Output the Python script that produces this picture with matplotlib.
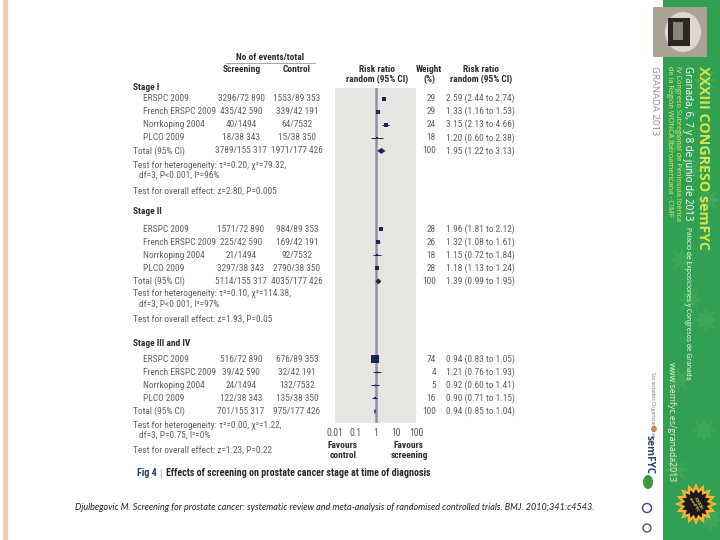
import matplotlib.pyplot as plt
import numpy as np
from matplotlib.patches import Rectangle, Polygon, Ellipse
from matplotlib import font_manager

# pick a narrow face if one is installed, otherwise shrink Lato
fm = font_manager.fontManager
names = {f.name for f in fm.ttflist}
body_family, body_stretch, scale = 'Lato', 'normal', 0.74
for nm in ['Liberation Sans Narrow', 'Roboto Condensed', 'Noto Sans Condensed', 'Open Sans Condensed']:
    if nm in names:
        body_family, body_stretch, scale = nm, 'normal', 0.91
        break
else:
    for nm in ['Noto Sans', 'Open Sans']:
        if any(f.name == nm and f.stretch in ('condensed', 'semi-condensed', 'extra-condensed')
               for f in fm.ttflist):
            body_family, body_stretch, scale = nm, 'condensed', 0.86
            break

plt.rcParams['font.family'] = [body_family, 'Lato', 'DejaVu Sans']
plt.rcParams['font.stretch'] = body_stretch

# =====
# Data
# =====
stages = ['Stage I', 'Stage II', 'Stage III and IV']
studies = ['ERSPC 2009', 'French ERSPC 2009', 'Norrkoping 2004', 'PLCO 2009']

scr_events = [[3296, 435, 40, 18], [1571, 225, 21, 3297], [516, 39, 24, 122]]
ctl_events = [[1553, 339, 64, 15], [984, 169, 92, 2790], [676, 32, 132, 135]]
scr_total = [72890, 42590, 1494, 38343]
ctl_total = [89353, 42191, 7532, 38350]

weights = [[29, 29, 24, 18], [28, 26, 18, 28], [74, 4, 5, 16]]
rr = [[2.59, 1.33, 3.15, 1.20], [1.96, 1.32, 1.15, 1.18], [0.94, 1.21, 0.92, 0.90]]
rr_lo = [[2.44, 1.16, 2.13, 0.60], [1.81, 1.08, 0.72, 1.13], [0.83, 0.76, 0.60, 0.71]]
rr_hi = [[2.74, 1.53, 4.66, 2.38], [2.12, 1.61, 1.84, 1.24], [1.05, 1.93, 1.41, 1.15]]

pooled_rr = [1.95, 1.39, 0.94]
pooled_lo = [1.22, 0.99, 0.85]
pooled_hi = [3.13, 1.95, 1.04]

het_tau2 = ['0.20', '0.10', '0.00']
het_chi2 = ['79.32', '114.38', '1.22']
het_p = ['P<0.001', 'P<0.001', 'P=0.75']
het_i2 = ['96%', '97%', '0%']
overall_z = ['2.80', '1.93', '1.23']
overall_p = ['P=0.005', 'P=0.05', 'P=0.22']

axis_ticks = [0.01, 0.1, 1, 10, 100]
axis_labels = ['0.01', '0.1', '1', '10', '100']

# pixel layout of each stage block
stage_header_y = [87, 212, 344]
stage_first_y = [98.5, 229, 359]
stage_het_y = [165, 294, 425]
stage_overall_y = [191, 319, 450]
row_step = 13.1


def fmt(n):
    if n >= 10000:
        return '{:,}'.format(n).replace(',', ' ')
    return str(n)


fig = plt.figure(figsize=(7.2, 5.4), dpi=100)
bg = fig.add_axes([0, 0, 1, 1])
bg.set_xlim(0, 720)
bg.set_ylim(540, 0)
bg.axis('off')

bg.add_patch(Rectangle((3, 0), 5, 540, color='#f8c7b3', lw=0))

L, R, T, B = 335, 416, 88, 423
ax = fig.add_axes([L / 720, 1 - B / 540, (R - L) / 720, (B - T) / 540])
ax.set_xscale('log')
ax.set_xlim(0.01, 100)
ax.set_ylim(B, T)
ax.set_facecolor('#e7e5e2')
for s in ax.spines.values():
    s.set_visible(False)
ax.set_yticks([])
ax.set_xticks(axis_ticks)
ax.set_xticklabels(axis_labels, fontsize=7.6 * scale, color='#555555')
ax.minorticks_off()
ax.tick_params(axis='x', length=0, pad=3.5)
ax.axvline(1, color='#8d90ad', lw=1.8, zorder=1)

dark = '#2b2b2b'
grey = '#606060'
navy = '#1d2455'
fs = 7.4 * scale
txt = dict(fontsize=fs, color=grey, va='center')
hdr = dict(fontsize=fs, color=dark, va='center', fontweight='bold')

bg.text(270, 57, 'No of events/total', ha='center', **hdr)
bg.plot([226, 315], [63, 63], color='#999999', lw=0.6)
bg.text(242, 70, 'Screening', ha='center', **hdr)
bg.text(297, 70, 'Control', ha='center', **hdr)
for cx, l1, l2 in [(377, 'Risk ratio', 'random (95% CI)'), (429, 'Weight', '(%)'),
                   (481, 'Risk ratio', 'random (95% CI)')]:
    bg.text(cx, 69.5, l1, ha='center', **hdr)
    bg.text(cx, 79.5, l2, ha='center', **hdr)

for k in range(len(stages)):
    bg.text(133, stage_header_y[k], stages[k], ha='left', **hdr)
    ys = [stage_first_y[k] + i * row_step for i in range(len(studies))]
    for i, name in enumerate(studies):
        y = ys[i]
        bg.text(143, y, name, ha='left', **txt)
        bg.text(241, y, fmt(scr_events[k][i]) + '/' + fmt(scr_total[i]), ha='center', **txt)
        bg.text(297, y, fmt(ctl_events[k][i]) + '/' + fmt(ctl_total[i]), ha='center', **txt)
        bg.text(436, y, str(weights[k][i]), ha='right', **txt)
        bg.text(446, y, '%.2f (%.2f to %.2f)' % (rr[k][i], rr_lo[k][i], rr_hi[k][i]), ha='left', **txt)
        ax.hlines(y, rr_lo[k][i], rr_hi[k][i], color=navy, lw=0.7, zorder=3)
        side = 1.3 + weights[k][i] * 0.085
        ax.plot(rr[k][i], y, marker='s', ms=side / 1.39, color=navy, mew=0, zorder=4)

    yt = stage_first_y[k] + len(studies) * row_step
    bg.text(133, yt, 'Total (95% CI)', ha='left', **txt)
    bg.text(241, yt, fmt(sum(scr_events[k])) + '/' + fmt(sum(scr_total)), ha='center', **txt)
    bg.text(297, yt, fmt(sum(ctl_events[k])) + '/' + fmt(sum(ctl_total)), ha='center', **txt)
    bg.text(436, yt, '100', ha='right', **txt)
    bg.text(446, yt, '%.2f (%.2f to %.2f)' % (pooled_rr[k], pooled_lo[k], pooled_hi[k]), ha='left', **txt)
    ax.add_patch(Polygon([(pooled_lo[k], yt), (pooled_rr[k], yt - 3), (pooled_hi[k], yt),
                          (pooled_rr[k], yt + 3)], closed=True, color=navy, lw=0, zorder=4))

    bg.text(133, stage_het_y[k], 'Test for heterogeneity: \u03c4\u00b2=' + het_tau2[k] +
            ', \u03c7\u00b2=' + het_chi2[k] + ',', ha='left', **txt)
    bg.text(139, stage_het_y[k] + 10.5, 'df=3, ' + het_p[k] + ', I\u00b2=' + het_i2[k],
            ha='left', **txt)
    bg.text(133, stage_overall_y[k], 'Test for overall effect: z=' + overall_z[k] + ', ' + overall_p[k],
            ha='left', **txt)

bg.text(343, 445, 'Favours', ha='center', **hdr)
bg.text(343, 455, 'control', ha='center', **hdr)
bg.text(409, 445, 'Favours', ha='center', **hdr)
bg.text(409, 455, 'screening', ha='center', **hdr)

cap = 7.2 * scale / 0.91
fig4 = bg.text(137, 473, 'Fig 4', ha='left', fontsize=cap, color='#2d3a6e', fontweight='bold', va='center')
bg.annotate('|', xy=(1, 0.5), xycoords=fig4, xytext=(2, 0), textcoords='offset points',
            ha='left', va='center', fontsize=cap, color='#e08a50')
bg.annotate('Effects of screening on prostate cancer stage at time of diagnosis', xy=(1, 0.5),
            xycoords=fig4, xytext=(7, 0), textcoords='offset points',
            ha='left', va='center', fontsize=cap, color=dark, fontweight='bold')

bg.text(75, 508, 'Djulbegovic M. Screening for prostate cancer: systematic review and meta-analysis '
        'of randomised controlled trials. BMJ. 2010;341:c4543.',
        ha='left', va='center', fontsize=6.45, style='italic', color='#222222',
        family=['Lato', 'DejaVu Sans'], stretch='normal')

# ====
# Right-hand conference banner
# ====
green = '#31a052'
bg.add_patch(Rectangle((663, 0), 57, 540, color=green, lw=0))
star_centers = [(680, 30), (705, 80), (675, 140), (708, 200), (682, 260), (706, 320),
                (678, 380), (704, 430), (676, 470), (710, 520), (690, 300), (690, 170)]
for cx, cy in star_centers:
    ang = np.linspace(0, 2 * np.pi, 17)[:-1]
    rad = np.where(np.arange(16) % 2 == 0, 13, 6)
    bg.add_patch(Polygon(np.c_[cx + rad * np.cos(ang), cy + rad * np.sin(ang)],
                         color='#52b45f', alpha=0.4, lw=0))

bg.add_patch(Rectangle((653, 7), 54, 50, color='#a9a396', lw=0))
bg.add_patch(Ellipse((683, 32), 36, 40, color='#ddd8cc', lw=0))
bg.add_patch(Rectangle((668, 18), 22, 28, color='#2b2623', lw=0))
bg.add_patch(Rectangle((673, 22), 10, 18, color='#8a8478', lw=0))

rot = dict(rotation=-90, rotation_mode='anchor', ha='left', va='center',
           family=['Open Sans', 'DejaVu Sans'], stretch='normal')
bg.text(703, 66, 'XXXIII CONGRESO semFYC', fontsize=10.3, fontweight='bold', color='#dbe44a', **rot)
bg.text(688, 66, 'Granada, 6, 7 y 8 de junio de 2013', fontsize=7, color='white', **rot)
bg.text(688, 227, 'Palacio de Exposiciones y Congresos de Granada', fontsize=4.9, color='white', **rot)
bg.text(678, 66, 'IV Congreso Subregional de Península Ibérica', fontsize=5.3, color='#e8e96a', **rot)
bg.text(670, 66, 'de la Región WONCA Iberoamericana · CIMF', fontsize=5.3, color='#e8e96a', **rot)
bg.text(655, 66, 'GRANADA 2013', fontsize=6.8, color='#8c8c8c', **rot)
bg.text(671, 362, 'www.semfyc.es/granada2013', fontsize=6.3, color='#e6f4d8', **rot)
bg.text(652, 372, 'Sociedades Organizadoras', fontsize=3.8, color='#777777', **rot)

bg.text(649, 435, 'semFYC', fontsize=7.3, fontweight='bold', color='#2c3f7c', **rot)
bg.add_patch(Ellipse((654, 429), 6, 6, color='#e0904a', lw=0))
bg.add_patch(Ellipse((648, 482), 10, 14, color='#3b9a3f', lw=0))
bg.add_patch(Ellipse((647, 508), 9, 9, fill=False, ec='#2a4a8a', lw=1))
bg.add_patch(Ellipse((647, 528), 8, 8, fill=False, ec='#555555', lw=1))

ang = np.linspace(0, 2 * np.pi, 33)[:-1]
rad = np.where(np.arange(32) % 2 == 0, 21, 15)
bg.add_patch(Polygon(np.c_[696 + rad * np.cos(ang), 504 + rad * np.sin(ang)], color='#f2b233', lw=0))
rad = np.where(np.arange(32) % 2 == 0, 15, 11)
bg.add_patch(Polygon(np.c_[696 + rad * np.cos(ang), 504 + rad * np.sin(ang)], color='#1a1a1a', lw=0))
bg.text(696, 504, 'XXXIII\nsemFYC', fontsize=3.2, color='#f2d060', ha='center', va='center',
        rotation=-60, fontweight='bold', family=['Open Sans', 'DejaVu Sans'], stretch='normal')

fig.savefig('out.png', dpi=100)
